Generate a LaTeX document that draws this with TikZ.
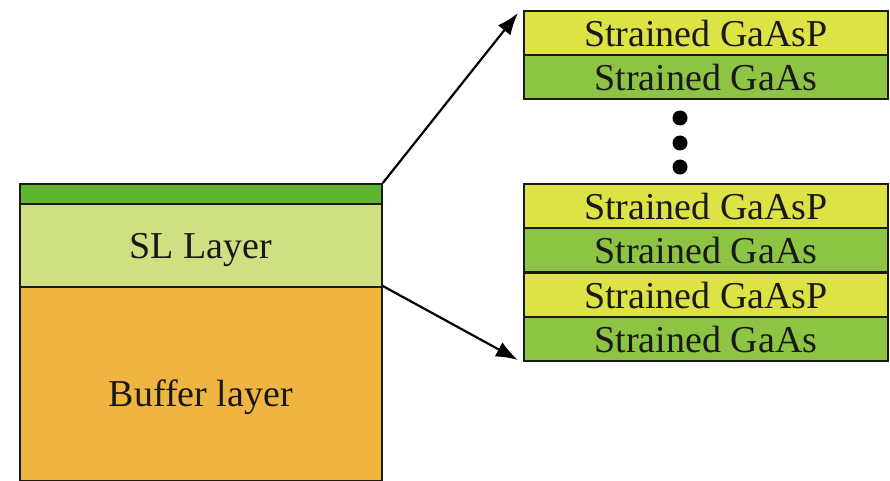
\documentclass[tikz,border=0pt]{standalone}
\usepackage{fontspec}
\setmainfont{Liberation Serif}
\usetikzlibrary{arrows.meta}
\definecolor{cTop}{HTML}{5DB530}
\definecolor{cSL}{HTML}{CFE083}
\definecolor{cBuf}{HTML}{F0B541}
\definecolor{cP}{HTML}{DDE245}
\definecolor{cAs}{HTML}{8DC443}
\definecolor{edge}{HTML}{1A1A1A}
\begin{document}
\begin{tikzpicture}[x=1pt,y=-1pt,
  layer/.style={draw=edge,line width=1.8pt,rectangle,inner sep=0pt,anchor=north west,
    font=\fontsize{38}{42}\selectfont,text=black!90,text depth=0pt},
  lrow/.style={layer,minimum width=364pt,minimum height=44pt,text height=28pt},
  gp/.style={lrow,fill=cP},
  ga/.style={lrow,fill=cAs},
  arr/.style={line width=2.2pt,draw=black,-{Latex[length=22pt,width=16pt]}},
  dot/.style={circle,fill=black,inner sep=0pt,minimum size=15pt}]
\useasboundingbox (0,0) rectangle (890,481);
% left stack
\node[layer,fill=cBuf,minimum width=362pt,minimum height=194pt,text height=46pt] (buf) at (19,286) {Buffer layer};
\node[layer,fill=cSL,minimum width=362pt,minimum height=83pt,text height=27pt] (sl) at (19,203) {SL Layer};
\node[layer,fill=cTop,minimum width=362pt,minimum height=20pt] (top) at (19,183) {};
% upper right stack
\node[gp] (p1) at (523,10) {Strained GaAsP};
\node[ga] (a1) at (523,54) {Strained GaAs};
% dots
\node[dot] (d1) at (680,118) {};
\node[dot] (d2) at (680,143) {};
\node[dot] (d3) at (680,167) {};
% lower right stack
\node[gp] (p2) at (523,183) {Strained GaAsP};
\node[ga] (a2) at (523,227) {Strained GaAs};
\node[gp] (p3) at (523,272) {Strained GaAsP};
\node[ga] (a3) at (523,316) {Strained GaAs};
% arrows
\coordinate (t1) at (518,13);
\coordinate (t2) at (518,360);
\draw[arr] (top.north east) -- (t1);
\draw[arr] (buf.north east) -- (t2);
\end{tikzpicture}
\end{document}
